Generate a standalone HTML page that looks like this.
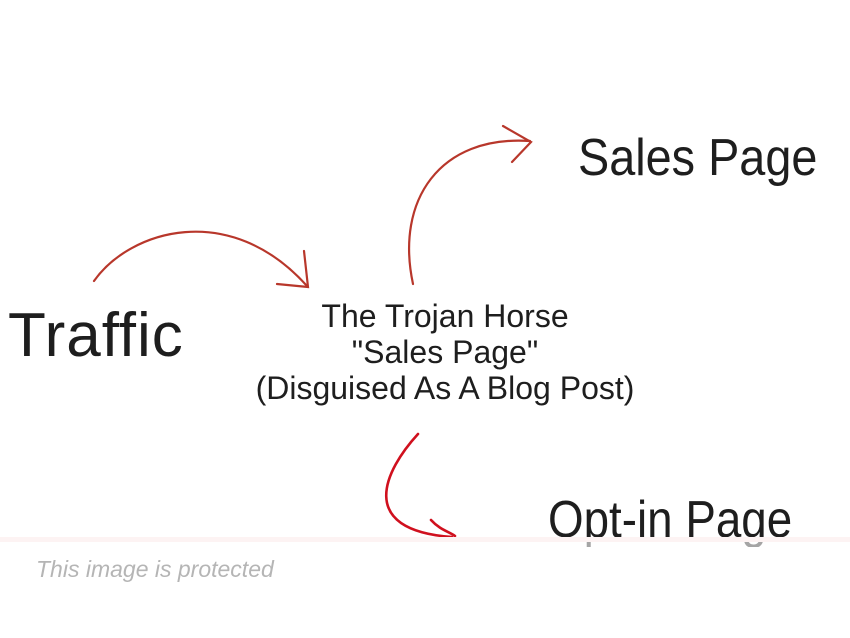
<!DOCTYPE html>
<html><head><meta charset="utf-8"><style>
body{margin:0;width:850px;height:638px;background:#fff;overflow:hidden;position:relative;font-family:"Liberation Sans",sans-serif;}
.t{position:absolute;color:#1e1e1e;white-space:nowrap;transform-origin:0 0;}
</style></head><body>
<svg width="850" height="638" style="position:absolute;left:0;top:0" fill="none" stroke-linecap="round">
<g stroke="#b8372b" stroke-width="2.2">
<path d="M94 281 C130 230 230 200 307 286"/>
<path d="M304 251 L308 287 L277 284"/>
<path d="M413 284 C395 200 440 135 530 141"/>
<path d="M503 126 L531 142 L512 162"/>
</g>
<g stroke="#d0101e" stroke-width="2.6">
<path d="M418 434 C385 470 355 530 452 537"/>
<path d="M431 520 C440 530 450 532 455 536"/>
</g>
</svg>
<div class="t" style="left:8px;top:300px;font-size:62px;letter-spacing:1px;font-variant-ligatures:none;">Traffic</div>
<div class="t" style="left:578px;top:128px;font-size:52px;transform:scaleX(0.9);">Sales Page</div>
<div class="t" style="left:548px;top:490px;font-size:52px;transform:scaleX(0.88);">Opt-in Page</div>
<div class="t" style="left:220px;top:298px;width:450px;text-align:center;font-size:32px;line-height:36px;">The Trojan Horse<br>"Sales Page"<br>(Disguised As A Blog Post)</div>
<div style="position:absolute;left:0;top:537px;width:850px;height:101px;background:rgba(255,255,255,0.6);border-top:5px solid #fdf3f3;box-sizing:border-box"></div>
<div style="position:absolute;left:0;top:547px;width:850px;height:91px;background:#fff"></div>
<div class="t" style="left:36px;top:556px;font-size:23px;font-style:italic;color:#b5b5b5;">This image is protected</div>
</body></html>
